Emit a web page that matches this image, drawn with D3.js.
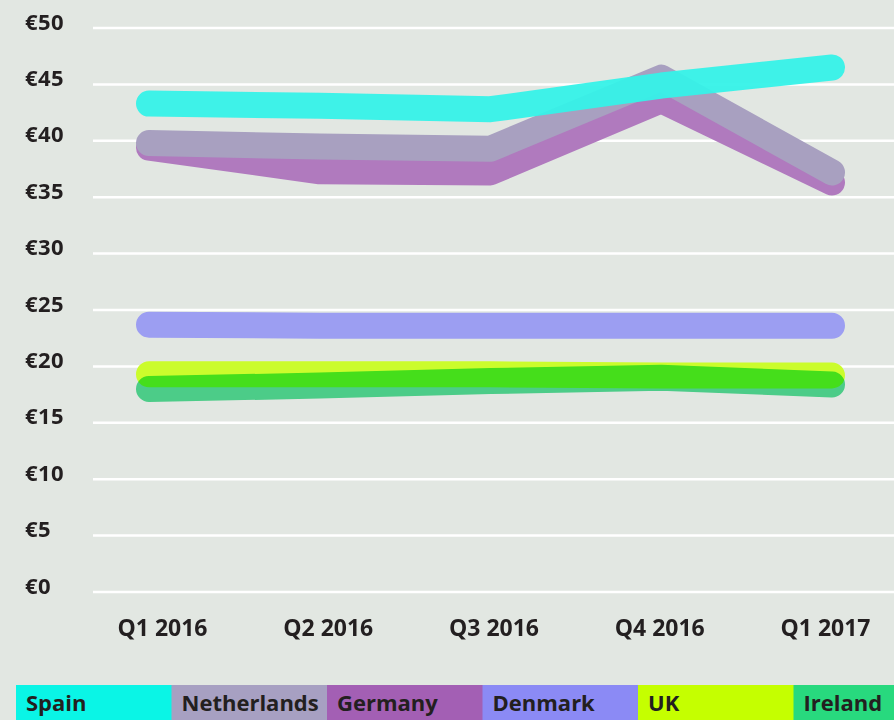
<!DOCTYPE html>
<html>
<head>
<meta charset="utf-8">
<script src="https://cdn.jsdelivr.net/npm/d3@7/dist/d3.min.js"></script>
<style>
  html, body { margin: 0; padding: 0; background: #e2e7e2; }
  svg { display: block; font-family: 'Open Sans', 'Noto Sans', sans-serif; }
  .tick text { font-weight: 700; fill: #231f20; }
</style>
</head>
<body>
<div id="chart"></div>
<script>
// quarters + tick labels
const QUARTERS = ['Q1 2016', 'Q2 2016', 'Q3 2016', 'Q4 2016', 'Q1 2017'];
const Y_TICKS = [0, 5, 10, 15, 20, 25, 30, 35, 40, 45, 50];

// series values (EUR)
const SPAIN       = [43.3, 43.1, 42.8, 44.9, 46.5];
const NETHERLANDS = [39.8, 39.5, 39.3, 45.6, 37.2];
const GERMANY     = [39.4, 37.3, 37.2, 43.6, 36.3];
const DENMARK     = [23.7, 23.6, 23.6, 23.6, 23.6];
const UK          = [19.3, 19.3, 19.3, 19.2, 19.2];
const IRELAND     = [18.0, 18.3, 18.7, 19.0, 18.4];

const SERIES = [
  { name: 'Spain',       values: SPAIN,       key: '#0af5e6', line: '#35f2e8' },
  { name: 'Netherlands', values: NETHERLANDS, key: '#a7a0c2', line: '#a8a0c0' },
  { name: 'Germany',     values: GERMANY,     key: '#a35fb4', line: '#b07abe' },
  { name: 'Denmark',     values: DENMARK,     key: '#8b8af5', line: '#9c9ef2' },
  { name: 'UK',          values: UK,          key: '#c5ff00', line: '#cbfc2c' },
  { name: 'Ireland',     values: IRELAND,     key: '#28d97e', line: '#56e199', blend: 'multiply' },
];
// drawing order, bottom to top
const DRAW_ORDER = ['Germany', 'Netherlands', 'Denmark', 'UK', 'Ireland', 'Spain'];

const FONT = "'Open Sans', 'Noto Sans', sans-serif";
const W = 894, H = 720;

const svg = d3.select('#chart').append('svg')
  .attr('width', W).attr('height', H);

svg.append('rect').attr('width', W).attr('height', H).attr('fill', '#e2e7e2');

const y = d3.scaleLinear().domain([0, 50]).range([592, 28]);
const x = d3.scalePoint().domain(QUARTERS).range([149, 832]);
const xLabel = d3.scalePoint().domain(QUARTERS).range([162, 825]);

// gridlines
svg.append('g').selectAll('line')
  .data(Y_TICKS)
  .join('line')
  .attr('x1', 93).attr('x2', W)
  .attr('y1', d => y(d)).attr('y2', d => y(d))
  .attr('stroke', '#ffffff')
  .attr('stroke-width', 2.5);

// y axis labels
const yAx = svg.append('g')
  .attr('transform', 'translate(25,0)')
  .call(d3.axisRight(y).tickValues(Y_TICKS).tickFormat(d => '€' + d).tickSize(0))
  .attr('font-family', FONT);
yAx.select('.domain').remove();
yAx.selectAll('.tick text')
  .attr('x', 0).attr('y', 1).attr('dy', 0)
  .attr('font-size', 22).attr('letter-spacing', 0.4)
  .attr('text-anchor', 'start');

// x axis labels
const xAx = svg.append('g')
  .attr('transform', 'translate(0,636)')
  .call(d3.axisBottom(xLabel).tickSize(0))
  .attr('font-family', FONT);
xAx.select('.domain').remove();
xAx.selectAll('.tick text')
  .attr('y', 0).attr('dy', 0)
  .attr('font-size', 23);

// lines
const line = d3.line()
  .x((d, i) => x(QUARTERS[i]))
  .y(d => y(d));

svg.append('g').selectAll('path')
  .data(DRAW_ORDER.map(n => SERIES.find(s => s.name === n)))
  .join('path')
  .attr('d', d => line(d.values))
  .attr('fill', 'none')
  .attr('stroke', d => d.line)
  .attr('stroke-width', 26)
  .attr('stroke-linecap', 'round')
  .attr('stroke-linejoin', 'round')
  .attr('opacity', d => d.name === 'Spain' ? 0.95 : 1)
  .style('mix-blend-mode', d => d.blend || 'normal');

// legend strip
const legX = d3.scaleBand().domain(SERIES.map(s => s.name)).range([16, 949]);

const leg = svg.append('g').selectAll('g')
  .data(SERIES)
  .join('g')
  .attr('transform', d => `translate(${legX(d.name)},685)`);

leg.append('rect')
  .attr('width', legX.bandwidth() + 0.5).attr('height', 35)
  .attr('fill', d => d.key);

leg.append('text')
  .attr('x', 10).attr('y', 26)
  .attr('font-size', 22).attr('font-weight', 700)
  .attr('fill', '#231f20')
  .text(d => d.name);
</script>
</body>
</html>
